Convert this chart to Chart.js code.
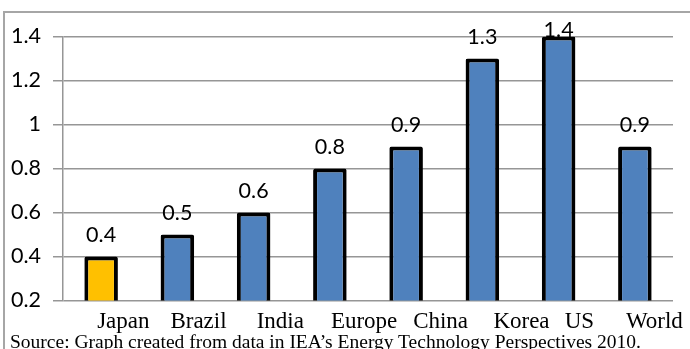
<!DOCTYPE html>
<html>
<head>
<meta charset="utf-8">
<script src="https://cdn.jsdelivr.net/npm/chart.js@4.4.1/dist/chart.umd.min.js"></script>
<style>
  html, body { margin: 0; padding: 0; background: #fff; }
  body { width: 690px; height: 349px; position: relative; overflow: hidden; }
  #frame { position: absolute; left: 3px; top: 11px; width: 720px; height: 400px;
           border-top: 2px solid #a6a6a6; border-left: 2px solid #a6a6a6; }
  #title { position: absolute; left: 26px; top: -20px; white-space: nowrap;
           font: 18px "Liberation Serif", "Times New Roman", serif; line-height: 18px; }
  #source { position: absolute; left: 10px; top: 332px; white-space: nowrap;
            font: 19.5px "Liberation Serif", "Times New Roman", serif; line-height: 19px; }
  #wrap { position: absolute; left: 0; top: 0; width: 690px; height: 349px; }
</style>
</head>
<body>
<div id="frame"></div>
<div id="title">Figure 4: Energy Savings Index Relative to the World Level in the Year 2007 (Index)</div>
<div id="wrap"><canvas id="energyChart" width="690" height="349"></canvas></div>
<div id="source">Source: Graph created from data in IEA’s Energy Technology Perspectives 2010.</div>

<script>
const countries = ['Japan', 'Brazil', 'India', 'Europe', 'China', 'Korea', 'US', 'World'];
const values = [0.4, 0.5, 0.6, 0.8, 0.9, 1.3, 1.4, 0.9];
const barColors = ['#FFC000', '#4F81BD', '#4F81BD', '#4F81BD', '#4F81BD', '#4F81BD', '#4F81BD', '#4F81BD'];
const yTicks = [0.2, 0.4, 0.6, 0.8, 1, 1.2, 1.4];

// labels in the original sit a bit off the bar centres
const labelShift = [-4, -7, 3, 1, 7, 11, 6, -9];

// value labels above bars, kept inside the plot like Excel does
const valueLabels = {
    id: 'valueLabels',
    afterDatasetsDraw(chart) {
        const ctx = chart.ctx;
        const meta = chart.getDatasetMeta(0);
        ctx.save();
        ctx.font = '21.5px Lato';
        ctx.fillStyle = '#000';
        ctx.textAlign = 'center';
        ctx.textBaseline = 'alphabetic';
        meta.data.forEach(function (bar, i) {
            const y = Math.max(bar.y - 15, 37);
            ctx.fillText(String(values[i]), bar.x, y);
        });
        ctx.restore();
    }
};

// category names, Times font, left aligned near each bar
const categoryLabels = {
    id: 'categoryLabels',
    afterDraw(chart) {
        const ctx = chart.ctx;
        const xScale = chart.scales.x;
        ctx.save();
        ctx.font = '23px "Liberation Serif"';
        ctx.fillStyle = '#000';
        ctx.textAlign = 'left';
        ctx.textBaseline = 'alphabetic';
        countries.forEach(function (name, i) {
            ctx.fillText(name, xScale.getPixelForValue(i) + labelShift[i], 328);
        });
        ctx.restore();
    }
};

const ctx = document.getElementById('energyChart').getContext('2d');
new Chart(ctx, {
    type: 'bar',
    data: {
        labels: countries,
        datasets: [{
            data: values,
            backgroundColor: barColors,
            borderColor: '#000',
            borderWidth: 4,
            borderRadius: 2,
            borderSkipped: false,
            barPercentage: 0.44,
            categoryPercentage: 1
        }]
    },
    options: {
        responsive: false,
        animation: false,
        devicePixelRatio: 1,
        layout: { padding: { top: 36.5, right: 17, left: 0, bottom: 0 } },
        plugins: {
            legend: { display: false },
            tooltip: { enabled: false }
        },
        scales: {
            x: {
                grid: { display: false },
                border: { display: false },
                ticks: { display: false },
                afterFit(scale) { scale.height = 48.5; }
            },
            y: {
                min: 0.2,
                max: 1.4,
                afterBuildTicks(scale) {
                    scale.ticks = yTicks.map(v => ({ value: v }));
                },
                ticks: {
                    color: '#000',
                    font: { family: 'Lato', size: 21.5 },
                    padding: 12,
                    callback: v => String(v)
                },
                grid: { color: '#969696', lineWidth: 1.5, tickLength: 10 },
                border: { color: '#969696', width: 1.5 },
                afterFit(scale) { scale.width = 63; }
            }
        }
    },
    plugins: [valueLabels, categoryLabels]
});
</script>
</body>
</html>
